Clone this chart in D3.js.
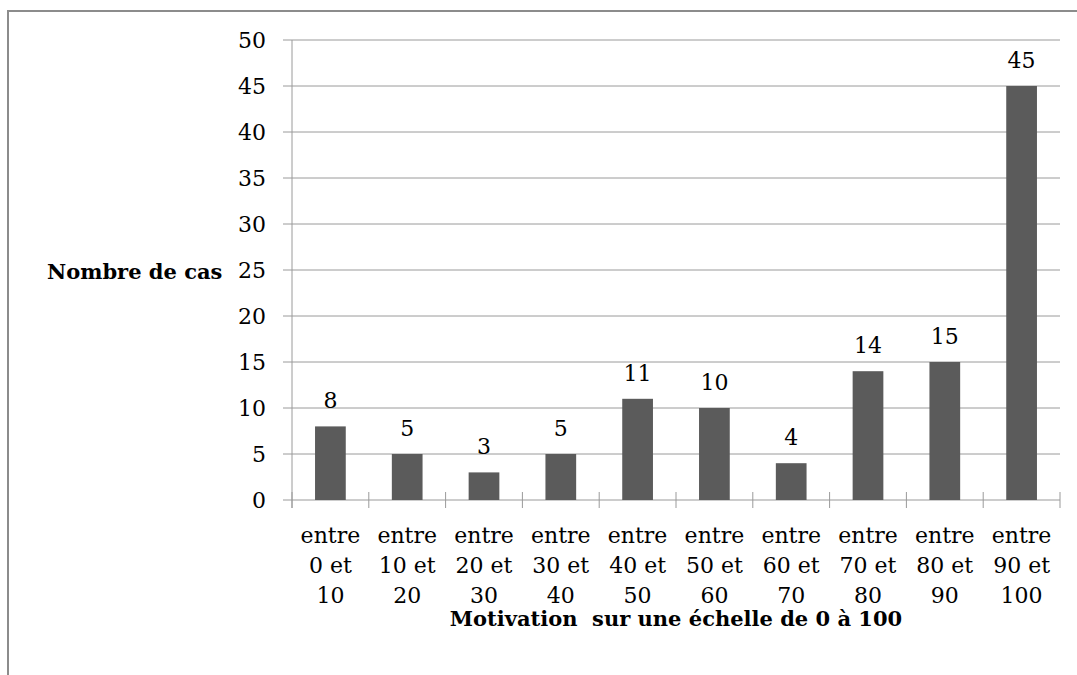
<!DOCTYPE html>
<html>
<head>
<meta charset="utf-8">
<script src="https://cdn.jsdelivr.net/npm/d3@7"></script>
<style>
    body { margin: 0; background: #fff; }
    svg text { font-family: "DejaVu Serif", serif; fill: #000; }
</style>
</head>
<body>
<div class="chart"></div>
<script>
// categories (x tick labels, one array per line) and counts
var categories = ["0-10", "10-20", "20-30", "30-40", "40-50", "50-60", "60-70", "70-80", "80-90", "90-100"];
var labelLines = [
    ["entre", "0 et", "10"],
    ["entre", "10 et", "20"],
    ["entre", "20 et", "30"],
    ["entre", "30 et", "40"],
    ["entre", "40 et", "50"],
    ["entre", "50 et", "60"],
    ["entre", "60 et", "70"],
    ["entre", "70 et", "80"],
    ["entre", "80 et", "90"],
    ["entre", "90 et", "100"]
];
var counts = [8, 5, 3, 5, 11, 10, 4, 14, 15, 45];
var yTicks = [0, 5, 10, 15, 20, 25, 30, 35, 40, 45, 50];
var yTitle = "Nombre de cas";
var xTitle = "Motivation\u00a0 sur une échelle de 0 à 100";

var width = 1077, height = 675;
var plotLeft = 292, plotRight = 1060, plotTop = 40, plotBottom = 500;
var fontSize = 22;

var svg = d3.select(".chart").append("svg")
    .attr("width", width)
    .attr("height", height);

// outer frame, cut off on the right and at the bottom
svg.append("rect")
    .attr("x", 8).attr("y", 11)
    .attr("width", 1100).attr("height", 700)
    .attr("fill", "none")
    .attr("stroke", "#8c8c8c")
    .attr("stroke-width", 2);

var x = d3.scaleBand()
    .domain(categories)
    .range([plotLeft, plotRight])
    .paddingInner(0.6)
    .paddingOuter(0.3);

var y = d3.scaleLinear()
    .domain([0, 50])
    .range([plotBottom, plotTop]);

var step = x.step();

/* gridlines */
svg.append("g")
    .selectAll("line")
    .data(yTicks)
    .enter().append("line")
    .attr("x1", plotLeft - 9)
    .attr("x2", plotRight)
    .attr("y1", function (d) { return y(d); })
    .attr("y2", function (d) { return y(d); })
    .attr("stroke", "#9a9a9a")
    .attr("stroke-width", 1);

/* y tick labels */
svg.append("g")
    .selectAll("text")
    .data(yTicks)
    .enter().append("text")
    .attr("x", 266)
    .attr("y", function (d) { return y(d); })
    .attr("dy", "0.35em")
    .attr("text-anchor", "end")
    .style("font-size", fontSize + "px")
    .text(function (d) { return d; });

// y axis line
svg.append("line")
    .attr("x1", plotLeft).attr("x2", plotLeft)
    .attr("y1", y(50)).attr("y2", plotBottom + 8)
    .attr("stroke", "#9a9a9a");

/* bars */
svg.append("g")
    .selectAll("rect")
    .data(counts)
    .enter().append("rect")
    .attr("x", function (d, i) { return x(categories[i]); })
    .attr("y", function (d) { return y(d); })
    .attr("width", x.bandwidth())
    .attr("height", function (d) { return y(0) - y(d); })
    .attr("fill", "#5b5b5b");

// value labels
svg.append("g")
    .selectAll("text")
    .data(counts)
    .enter().append("text")
    .attr("x", function (d, i) { return x(categories[i]) + x.bandwidth() / 2; })
    .attr("y", function (d) { return y(d) - 18; })
    .attr("text-anchor", "middle")
    .style("font-size", fontSize + "px")
    .text(function (d) { return d; });

/* category tick marks (cross the axis) */
var bounds = categories.map(function (c) { return x(c) + x.bandwidth() / 2 - step / 2; });
bounds.push(bounds[bounds.length - 1] + step);
svg.append("g")
    .selectAll("line")
    .data(bounds)
    .enter().append("line")
    .attr("x1", function (d) { return d; })
    .attr("x2", function (d) { return d; })
    .attr("y1", plotBottom - 8)
    .attr("y2", plotBottom + 8)
    .attr("stroke", "#9a9a9a");

// multi-line category labels
var catLabels = svg.append("g")
    .selectAll("text")
    .data(labelLines)
    .enter().append("text")
    .attr("text-anchor", "middle")
    .style("font-size", fontSize + "px");

catLabels.selectAll("tspan")
    .data(function (d, i) {
        return d.map(function (t) { return { t: t, i: i }; });
    })
    .enter().append("tspan")
    .attr("x", function (d) { return x(categories[d.i]) + x.bandwidth() / 2; })
    .attr("y", function (d, j) { return 543 + j * 30; })
    .text(function (d) { return d.t; });

/* axis titles */
svg.append("text")
    .attr("x", 47)
    .attr("y", 279)
    .style("font-size", "21px")
    .style("font-weight", "bold")
    .text(yTitle);

svg.append("text")
    .attr("x", (plotLeft + plotRight) / 2)
    .attr("y", 626)
    .attr("text-anchor", "middle")
    .style("font-size", "21px")
    .style("font-weight", "bold")
    .style("white-space", "pre")
    .text(xTitle);
</script>
</body>
</html>
